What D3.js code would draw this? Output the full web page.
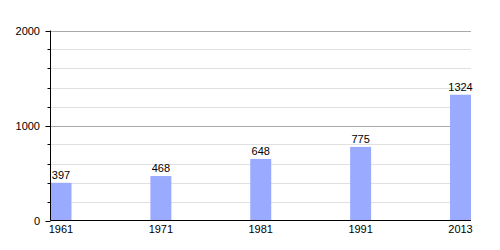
<!DOCTYPE html>
<html>
<head>
<meta charset="utf-8">
<script src="https://cdn.jsdelivr.net/npm/d3@7"></script>
<style>
  body { margin: 0; background: #fff; }
  svg { display: block; font-family: "Liberation Sans", Arial, sans-serif; }
</style>
</head>
<body>
<div id="chart"></div>
<script>
const years = ["1961", "1971", "1981", "1991", "2013"];
const population = [397, 468, 648, 775, 1324];
const majorTicks = [0, 1000, 2000];
const minorTicks = [200, 400, 600, 800, 1200, 1400, 1600, 1800];

const width = 500, height = 250;
const mLeft = 50.5, mRight = 471, mTop = 30.5, mBottom = 220.5;

const svg = d3.select("#chart").append("svg")
  .attr("width", width).attr("height", height);

const x = d3.scaleBand().domain(years).range([mLeft, mRight])
  .paddingInner(0.79).paddingOuter(0);
const y = d3.scaleLinear().domain([0, 2000]).range([mBottom, mTop]);

// minor grid
svg.selectAll(".minor").data(minorTicks).enter().append("line")
  .attr("x1", mLeft).attr("x2", mRight)
  .attr("y1", d => Math.round(y(d)) + 0.5).attr("y2", d => Math.round(y(d)) + 0.5)
  .attr("stroke", "#e0e0e0");
// major grid
svg.selectAll(".major").data(majorTicks.filter(d => d > 0)).enter().append("line")
  .attr("x1", mLeft).attr("x2", mRight)
  .attr("y1", d => Math.round(y(d)) + 0.5).attr("y2", d => Math.round(y(d)) + 0.5)
  .attr("stroke", "#aaaaaa");

// bars
svg.selectAll("rect").data(population).enter().append("rect")
  .attr("x", (d, i) => x(years[i]))
  .attr("y", d => y(d))
  .attr("width", x.bandwidth())
  .attr("height", d => mBottom - y(d))
  .attr("fill", "#99aaff");

// value labels
svg.selectAll(".val").data(population).enter().append("text")
  .attr("x", (d, i) => x(years[i]) + x.bandwidth() / 2)
  .attr("y", d => y(d) - 4)
  .attr("text-anchor", "middle")
  .attr("font-size", 11)
  .attr("fill", "#000")
  .text(d => d);

// y axis ticks
svg.selectAll(".mt").data(minorTicks).enter().append("line")
  .attr("x1", mLeft - 3).attr("x2", mLeft)
  .attr("y1", d => Math.round(y(d)) + 0.5).attr("y2", d => Math.round(y(d)) + 0.5)
  .attr("stroke", "#000");
svg.selectAll(".Mt").data(majorTicks).enter().append("line")
  .attr("x1", mLeft - 5).attr("x2", mLeft)
  .attr("y1", d => Math.round(y(d)) + 0.5).attr("y2", d => Math.round(y(d)) + 0.5)
  .attr("stroke", "#000");
svg.selectAll(".yl").data(majorTicks).enter().append("text")
  .attr("x", 40).attr("y", d => y(d) + 4)
  .attr("text-anchor", "end")
  .attr("font-size", 11)
  .text(d => d);

// axis lines
svg.append("line").attr("x1", mLeft).attr("x2", mLeft).attr("y1", mTop).attr("y2", mBottom)
  .attr("stroke", "#000");
svg.append("line").attr("x1", mLeft).attr("x2", mRight).attr("y1", mBottom).attr("y2", mBottom)
  .attr("stroke", "#000");

// x labels
svg.selectAll(".xl").data(years).enter().append("text")
  .attr("x", d => x(d) + x.bandwidth() / 2)
  .attr("y", mBottom + 12)
  .attr("text-anchor", "middle")
  .attr("font-size", 11)
  .text(d => d);
</script>
</body>
</html>
